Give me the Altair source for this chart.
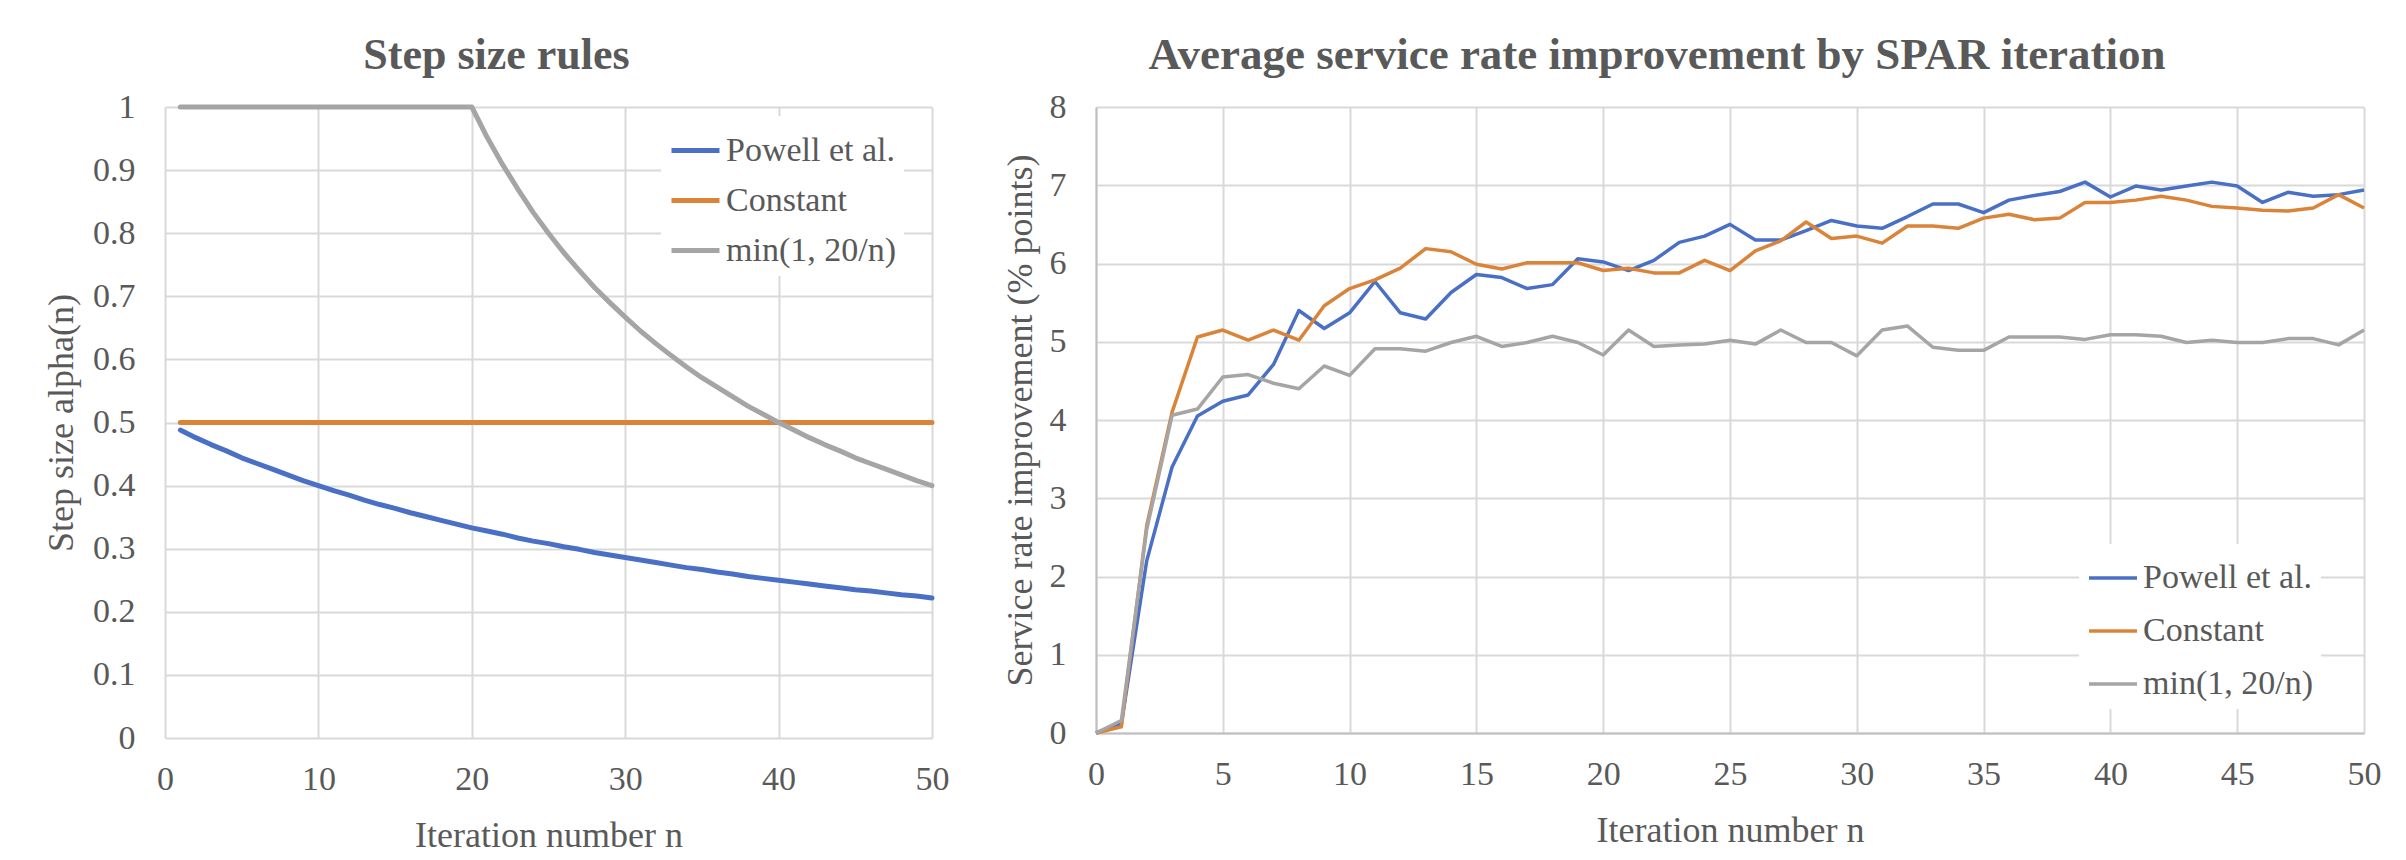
import altair as alt
import pandas as pd

# ---------------- data: left panel (step size rules) ----------------
n_left = list(range(1, 51))
powell_step = [0.488, 0.476, 0.465, 0.455, 0.444, 0.435, 0.426, 0.417, 0.408, 0.400,
               0.392, 0.385, 0.377, 0.370, 0.364, 0.357, 0.351, 0.345, 0.339, 0.333,
               0.328, 0.323, 0.317, 0.312, 0.308, 0.303, 0.299, 0.294, 0.290, 0.286,
               0.282, 0.278, 0.274, 0.270, 0.267, 0.263, 0.260, 0.256, 0.253, 0.250,
               0.247, 0.244, 0.241, 0.238, 0.235, 0.233, 0.230, 0.227, 0.225, 0.222]
constant_step = [0.5, 0.5, 0.5, 0.5, 0.5, 0.5, 0.5, 0.5, 0.5, 0.5,
                 0.5, 0.5, 0.5, 0.5, 0.5, 0.5, 0.5, 0.5, 0.5, 0.5,
                 0.5, 0.5, 0.5, 0.5, 0.5, 0.5, 0.5, 0.5, 0.5, 0.5,
                 0.5, 0.5, 0.5, 0.5, 0.5, 0.5, 0.5, 0.5, 0.5, 0.5,
                 0.5, 0.5, 0.5, 0.5, 0.5, 0.5, 0.5, 0.5, 0.5, 0.5]
minrule_step = [1.0, 1.0, 1.0, 1.0, 1.0, 1.0, 1.0, 1.0, 1.0, 1.0,
                1.0, 1.0, 1.0, 1.0, 1.0, 1.0, 1.0, 1.0, 1.0, 1.0,
                0.952, 0.909, 0.870, 0.833, 0.800, 0.769, 0.741, 0.714, 0.690, 0.667,
                0.645, 0.625, 0.606, 0.588, 0.571, 0.556, 0.541, 0.526, 0.513, 0.500,
                0.488, 0.476, 0.465, 0.455, 0.444, 0.435, 0.426, 0.417, 0.408, 0.400]

# ---------------- data: right panel (service rate improvement) ----------------
n_right = list(range(0, 51))
powell_imp = [0.0, 0.12, 2.2, 3.4, 4.05, 4.24, 4.32, 4.71, 5.4, 5.17,
              5.37, 5.77, 5.37, 5.29, 5.63, 5.86, 5.82, 5.68, 5.73, 6.06,
              6.02, 5.91, 6.04, 6.27, 6.35, 6.5, 6.3, 6.3, 6.42, 6.55,
              6.48, 6.45, 6.6, 6.76, 6.76, 6.65, 6.81, 6.87, 6.92, 7.04,
              6.85, 6.99, 6.94, 6.99, 7.04, 6.99, 6.78, 6.91, 6.86, 6.88,
              6.94]
constant_imp = [0.0, 0.08, 2.65, 4.1, 5.06, 5.15, 5.02, 5.15, 5.02, 5.46,
                5.68, 5.79, 5.94, 6.19, 6.15, 5.99, 5.93, 6.01, 6.01, 6.01,
                5.91, 5.94, 5.88, 5.88, 6.04, 5.91, 6.16, 6.29, 6.53, 6.32,
                6.35, 6.26, 6.48, 6.48, 6.45, 6.58, 6.63, 6.56, 6.58, 6.78,
                6.78, 6.81, 6.86, 6.81, 6.73, 6.71, 6.68, 6.67, 6.71, 6.88,
                6.71]
minrule_imp = [0.0, 0.16, 2.6, 4.06, 4.14, 4.55, 4.58, 4.47, 4.4, 4.69,
               4.57, 4.91, 4.91, 4.88, 4.99, 5.07, 4.94, 4.99, 5.07, 4.99,
               4.83, 5.15, 4.94, 4.96, 4.97, 5.02, 4.97, 5.15, 4.99, 4.99,
               4.82, 5.15, 5.2, 4.93, 4.89, 4.89, 5.06, 5.06, 5.06, 5.03,
               5.09, 5.09, 5.07, 4.99, 5.02, 4.99, 4.99, 5.04, 5.04, 4.96,
               5.15]

series_names = ["Powell et al.", "Constant", "min(1, 20/n)"]
series_colors = ["#4A70C6", "#DA843A", "#A5A5A5"]

left_ticks_x = [0, 10, 20, 30, 40, 50]
left_ticks_y = [0, 0.1, 0.2, 0.3, 0.4, 0.5, 0.6, 0.7, 0.8, 0.9, 1]
right_ticks_x = [0, 5, 10, 15, 20, 25, 30, 35, 40, 45, 50]
right_ticks_y = [0, 1, 2, 3, 4, 5, 6, 7, 8]

FONT = "Liberation Serif"
TEXT = "#595959"
GRID = "#D9D9D9"
AXISLINE = "#BFBFBF"


def long_frame(xs, cols):
    rows = []
    for k, (name, vals) in enumerate(zip(series_names, cols)):
        for x, v in zip(xs, vals):
            rows.append({"n": x, "value": v, "series": name, "order": k})
    return pd.DataFrame(rows)


left_df = long_frame(n_left, [powell_step, constant_step, minrule_step])
right_df = long_frame(n_right, [powell_imp, constant_imp, minrule_imp])

color_scale = alt.Scale(domain=series_names, range=series_colors)


def axis_x(values, title, domain):
    extra = {"domain": True, "domainColor": AXISLINE, "domainWidth": 2} if domain else {"domain": False}
    return alt.Axis(values=values, title=title, grid=True, gridColor=GRID, gridWidth=2,
                    ticks=False, labelPadding=24, labelFont=FONT,
                    labelFontSize=34, labelColor=TEXT, titleFont=FONT, titleFontSize=36,
                    titleFontWeight="normal", titleColor=TEXT, titlePadding=22,
                    labelFlush=False, **extra)


def axis_y(values, title, pad, fmt, domain):
    extra = {"domain": True, "domainColor": AXISLINE, "domainWidth": 2} if domain else {"domain": False}
    return alt.Axis(values=values, title=title, grid=True, gridColor=GRID, gridWidth=2,
                    ticks=False, labelPadding=30, labelFont=FONT,
                    labelFontSize=34, labelColor=TEXT, titleFont=FONT, titleFontSize=36,
                    titleFontWeight="normal", titleColor=TEXT, titlePadding=pad,
                    format=fmt, labelFlush=False, **extra)


left = alt.Chart(left_df).mark_line(strokeWidth=5, strokeCap="round", strokeJoin="round").encode(
    x=alt.X("n:Q", scale=alt.Scale(domain=[0, 50], nice=False),
            axis=axis_x(left_ticks_x, "Iteration number n", False)),
    y=alt.Y("value:Q", scale=alt.Scale(domain=[0, 1], nice=False),
            axis=axis_y(left_ticks_y, "Step size alpha(n)", 12, "~g", False)),
    color=alt.Color("series:N", scale=color_scale, sort=series_names,
                    legend=alt.Legend(orient="none", legendX=496, legendY=9, title=None,
                                      symbolType="stroke", symbolSize=2304,
                                      symbolStrokeWidth=5, labelFont=FONT,
                                      labelFontSize=34, labelColor=TEXT,
                                      fillColor="white", padding=8, rowPadding=6,
                                      labelOffset=4, labelLimit=400)),
    order=alt.Order("order:Q"),
).properties(
    width=767, height=631,
    title=alt.TitleParams("Step size rules", font=FONT, fontSize=44, fontWeight="bold",
                          color=TEXT, anchor="middle", dx=-52, offset=12),
)

right = alt.Chart(right_df).mark_line(strokeWidth=3.5, strokeJoin="round").encode(
    x=alt.X("n:Q", scale=alt.Scale(domain=[0, 50], nice=False),
            axis=axis_x(right_ticks_x, "Iteration number n", True)),
    y=alt.Y("value:Q", scale=alt.Scale(domain=[0, 8], nice=False),
            axis=axis_y(right_ticks_y, "Service rate improvement (% points)", 10, "d", True)),
    color=alt.Color("series:N", scale=color_scale, sort=series_names,
                    legend=alt.Legend(orient="none", legendX=983, legendY=437, title=None,
                                      symbolType="stroke", symbolSize=2304,
                                      symbolStrokeWidth=3.5, labelFont=FONT,
                                      labelFontSize=34, labelColor=TEXT,
                                      fillColor="white", padding=8, rowPadding=10,
                                      labelOffset=4, labelLimit=400)),
    order=alt.Order("order:Q"),
).properties(
    width=1268, height=626,
    title=alt.TitleParams("Average service rate improvement by SPAR iteration", font=FONT,
                          fontSize=45, fontWeight="bold", color=TEXT, anchor="middle",
                          dx=-73, offset=12),
)

chart = alt.hconcat(left, right, spacing=53).resolve_scale(
    color="independent", x="independent", y="independent"
).resolve_legend(color="independent").configure_view(strokeWidth=0).properties(
    padding={"left": 35, "top": 25, "right": 5, "bottom": 5}
)

chart.save("out.html", embed_options={"renderer": "svg", "actions": False})
